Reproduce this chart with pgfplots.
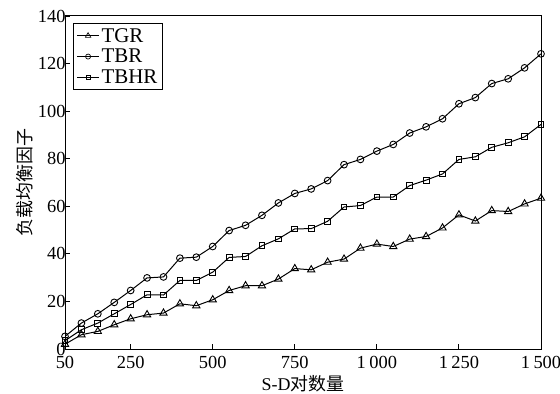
\documentclass[border=0pt]{standalone}
\usepackage{fontspec}
\setmainfont{Liberation Serif}
\newfontfamily\cjk{Noto Sans CJK SC}
\usepackage{pgfplots}
\pgfplotsset{compat=1.18}
\begin{document}
\begin{tikzpicture}[x=1bp,y=1bp]
\begin{axis}[
  scale only axis,
  width=476bp, height=333bp,
  xmin=50, xmax=1500, ymin=0, ymax=140,
  xtick={50,250,500,750,1000,1250,1500},
  xticklabels={50,250,500,750,1\kern3.5bp 000,1\kern3.5bp 250,1\kern3.5bp 500},
  ytick={0,20,40,60,80,100,120,140},
  xtick pos=bottom, ytick pos=left,
  tick align=inside,
  major tick length=5bp,
  axis line style={line width=1pt},
  every tick/.style={line width=0.9pt, black},
  tick label style={font=\fontsize{18.5}{18.5}\selectfont},
  /pgf/number format/assume math mode=true,
  xticklabel style={yshift=-4bp},
  yticklabel style={xshift=4bp},
  xlabel={S-D{\cjk 对数量}},
  ylabel={\cjk 负载均衡因子},
  label style={font=\fontsize{18}{18}\selectfont},
  xlabel style={yshift=0bp},
  ylabel style={yshift=-2bp},
  legend style={font=\fontsize{21}{21}\selectfont, draw=black, line width=1pt, inner xsep=3bp, inner ysep=3bp, row sep=1.5bp, at={(0.017,0.98)}, anchor=north west},
  legend cell align=left,
  legend image code/.code={
    \draw[mark repeat=2,mark phase=2, mark options={scale=0.75, line width=0.7pt, fill=white}] plot coordinates {(0bp,0bp) (11bp,0bp) (22bp,0bp)};},
  every axis plot/.append style={line width=1pt, black, mark options={solid, line width=0.9pt, fill=white}},
]
\addplot[mark=triangle, mark size=4.2pt] coordinates {
(50,2.0)(100,6.0)(150,7.4)(200,10.2)(250,12.7)(300,14.4)(350,15.1)(400,19.0)(450,18.2)(500,20.7)
(550,24.6)(600,26.6)(650,26.6)(700,29.4)(750,33.8)(800,33.3)(850,36.5)(900,37.8)(950,42.4)(1000,44.1)
(1050,43.1)(1100,46.2)(1150,47.3)(1200,50.9)(1250,56.4)(1300,53.8)(1350,58.2)(1400,57.8)(1450,61.0)(1500,63.4)};
\addlegendentry{TGR}
\addplot[mark=o, mark size=3.4pt] coordinates {
(50,5.3)(100,10.9)(150,14.8)(200,19.6)(250,24.6)(300,29.9)(350,30.3)(400,38.2)(450,38.6)(500,43.1)
(550,49.8)(600,52.0)(650,56.2)(700,61.4)(750,65.4)(800,67.3)(850,70.8)(900,77.5)(950,79.7)(1000,83.2)
(1050,86.0)(1100,90.8)(1150,93.4)(1200,96.8)(1250,103.1)(1300,105.7)(1350,111.6)(1400,113.6)(1450,118.2)(1500,124.1)};
\addlegendentry{TBR}
\addplot[mark=square, mark size=2.9pt] coordinates {
(50,3.5)(100,8.1)(150,10.9)(200,14.8)(250,18.7)(300,22.8)(350,22.7)(400,28.8)(450,28.8)(500,32.3)
(550,38.5)(600,38.9)(650,43.4)(700,46.3)(750,50.5)(800,50.6)(850,53.7)(900,59.7)(950,60.3)(1000,63.9)
(1050,63.9)(1100,68.7)(1150,71.0)(1200,73.6)(1250,79.7)(1300,80.8)(1350,84.8)(1400,86.7)(1450,89.2)(1500,94.4)};
\addlegendentry{TBHR}
\end{axis}
\pgfresetboundingbox
\path (-65bp,-45bp) rectangle (495bp,349bp);
\end{tikzpicture}
\end{document}
